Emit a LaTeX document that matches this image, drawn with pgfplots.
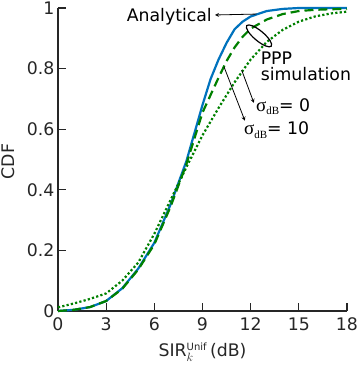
\documentclass[border=0pt]{standalone}
\usepackage[no-math]{fontspec}
\setmainfont{DejaVu Sans}
\newfontfamily\serifg{Liberation Serif}
\usepackage{pgfplots}
\pgfplotsset{compat=1.18}
\definecolor{mblue}{RGB}{0,114,189}
\definecolor{mgreen}{RGB}{0,128,0}
\definecolor{axgray}{RGB}{38,38,38}
\newcommand{\sdb}{{\serifg\fontsize{19}{20}\selectfont σ}\raisebox{-3.5pt}{\serifg\fontsize{11}{11}\selectfont dB}}
\begin{document}
\begin{tikzpicture}[font=\fontsize{17.3}{20}\selectfont]
\useasboundingbox (-58pt,-57pt) rectangle (299pt,311pt);
\begin{axis}[
  scale only axis, width=289pt, height=303pt,
  at={(0,0)}, anchor=south west,
  xmin=0, xmax=18, ymin=0, ymax=1,
  xtick={0,3,6,9,12,15,18},
  ytick={0,0.2,0.4,0.6,0.8,1},
  axis x line=bottom, axis y line=left,
  axis line style={-, draw=axgray, line width=1.4pt},
  tick style={draw=axgray, line width=1.2pt},
  tick align=inside,
  major tick length=8pt,
  /pgf/number format/assume math mode=true,
  ticklabel style={font=\fontsize{17.3}{20}\selectfont, text=axgray},
  xticklabel style={yshift=-3pt},
  label style={font=\fontsize{17.3}{20}\selectfont, text=axgray},
  xlabel={SIR$_{k}^{\hbox{\fontsize{10}{10}\selectfont Unif}}$\,(dB)},
  ylabel={CDF},
  xlabel style={at={(axis description cs:0.5,-0.1518)}, anchor=base},
  ylabel style={at={(axis description cs:-0.149,0.493)}, anchor=base},
  clip=false,
]
\addplot[mblue, line width=2.2pt] coordinates {
(0,0) (1,0.004) (2,0.013) (3,0.033) (4,0.075) (5,0.14) (6,0.225) (7,0.35) (8,0.495)
(9,0.68) (9.5,0.765) (10,0.83) (10.5,0.885) (11,0.93) (11.5,0.955) (12,0.972) (13,0.99)
(14,0.997) (15,1) (16,1) (17,1) (18,1)};
\addplot[mgreen, line width=2.2pt, dash pattern=on 9pt off 5pt] coordinates {
(0,0) (1,0.004) (2,0.013) (3,0.033) (4,0.073) (5,0.137) (6,0.22) (7,0.343) (8,0.485)
(9,0.655) (10,0.77) (10.5,0.825) (11,0.87) (11.5,0.905) (12,0.932) (13,0.962) (14,0.98)
(15,0.99) (16,0.994) (17,0.996) (18,0.997)};
\addplot[mgreen, line width=2.2pt, dash pattern=on 2.2pt off 2.2pt] coordinates {
(0,0.012) (1,0.025) (2,0.04) (3,0.058) (4,0.1) (5,0.16) (6,0.255) (7,0.365) (8,0.475)
(9,0.58) (10,0.67) (11,0.755) (12,0.83) (13,0.888) (14,0.928) (15,0.955) (16,0.972)
(17,0.982) (18,0.988)};
% annotations
\node[anchor=base east, inner sep=0pt] at (axis cs:9.59,0.957) {Analytical};
\draw[-stealth, line width=0.8pt] (axis cs:12.37,0.980) -- (axis cs:9.78,0.977);
\draw[line width=1.2pt, rotate around={-40:(axis cs:12.52,0.908)}] (axis cs:12.52,0.908) ellipse (16pt and 5pt);
\node[anchor=base west, inner sep=0pt] at (axis cs:12.62,0.812) {PPP};
\node[anchor=base west, inner sep=0pt] at (axis cs:12.62,0.760) {simulation};
\node[anchor=base west, inner sep=0pt] at (axis cs:12.33,0.660) {\sdb= 0};
\node[anchor=base west, inner sep=0pt] at (axis cs:11.58,0.581) {\sdb= 10};
\draw[-stealth, line width=0.8pt] (axis cs:11.44,0.795) -- (axis cs:12.20,0.687);
\draw[-stealth, line width=0.8pt] (axis cs:10.34,0.806) -- (axis cs:11.64,0.628);
\end{axis}
\end{tikzpicture}
\end{document}
